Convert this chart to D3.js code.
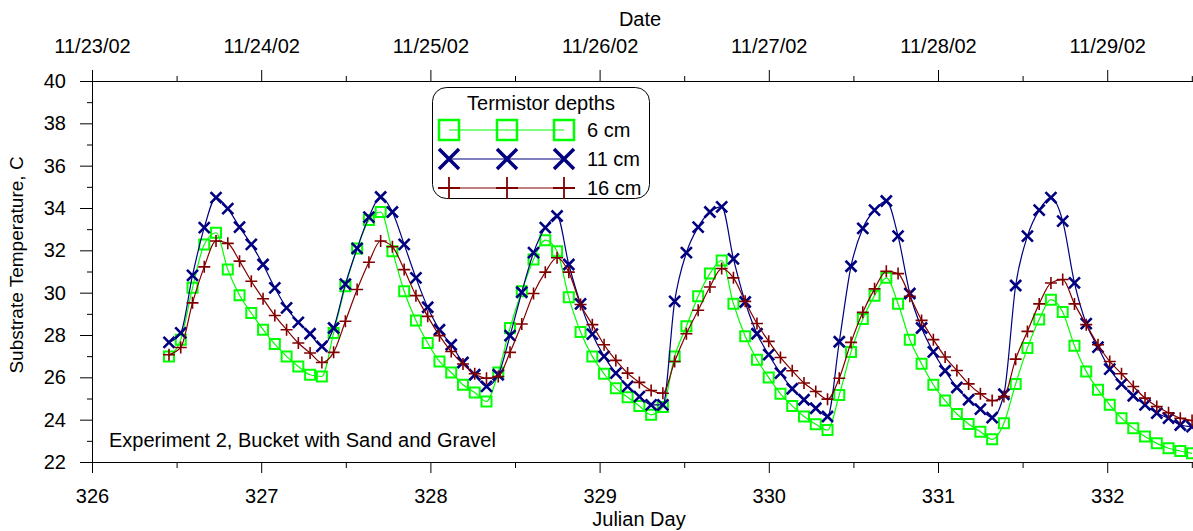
<!DOCTYPE html>
<html>
<head>
<meta charset="utf-8">
<script src="https://cdn.jsdelivr.net/npm/d3@7"></script>
<style>
  body { margin: 0; background: #fff; }
  svg text { font-family: 'Liberation Sans', Arial, sans-serif; fill: #000; }
</style>
</head>
<body>
<script>
// sampling: one marker every ~100 minutes
var startDay = 326.455;
var stepDay = 0.0695;

var temp6 = [26.99, 27.78, 30.23, 32.28, 32.83, 31.09, 29.88, 29.04, 28.25, 27.57, 26.99, 26.51, 26.12, 26.04,
  28.1, 30.3, 32.09, 33.43, 33.81, 31.96, 30.07, 28.68, 27.62, 26.75, 26.23, 25.65, 25.28, 24.86,
  26.23, 28.33, 30.07, 31.57, 32.48, 31.96, 29.78, 28.14, 26.99, 26.17, 25.49, 25.06, 24.65, 24.23, 24.6,
  26.99, 28.41, 29.83, 30.9, 31.52, 29.48, 27.94, 26.83, 25.99, 25.22, 24.65, 24.15, 23.78, 23.51,
  25.17, 27.2, 28.76, 29.86, 30.7, 29.48, 27.78, 26.64, 25.65, 24.9, 24.27, 23.8, 23.43, 23.07,
  23.83, 25.69, 27.39, 28.73, 29.67, 29.09, 27.49, 26.28, 25.41, 24.7, 24.07, 23.6, 23.2, 22.88, 22.65, 22.52, 22.41];

var temp11 = [27.65, 28.1, 30.82, 33.07, 34.49, 33.97, 33.1, 32.28, 31.33, 30.23, 29.28, 28.6, 28.06, 27.46,
  28.33, 30.4, 32.09, 33.57, 34.52, 33.81, 32.28, 30.7, 29.31, 28.25, 27.54, 26.7, 26.12, 25.57,
  26.12, 27.97, 30.02, 31.89, 33.07, 33.62, 31.33, 29.47, 28.04, 26.99, 26.2, 25.57, 25.09, 24.7, 24.7,
  29.59, 31.89, 33.1, 33.81, 34.05, 31.6, 29.56, 28.06, 27.07, 26.2, 25.46, 24.94, 24.54, 24.15,
  27.68, 31.25, 33.04, 33.9, 34.33, 32.67, 29.96, 28.33, 27.2, 26.31, 25.52, 24.94, 24.5, 24.1,
  25.2, 30.34, 32.67, 33.9, 34.49, 33.38, 30.46, 28.54, 27.43, 26.39, 25.68, 25.13, 24.7, 24.31, 24.07, 23.75, 23.67];

var temp16 = [27.07, 27.41, 29.52, 31.22, 32.44, 32.33, 31.49, 30.54, 29.71, 28.92, 28.25, 27.62, 27.15, 26.7,
  27.18, 28.65, 30.15, 31.44, 32.44, 32.17, 31.09, 29.86, 28.88, 27.97, 27.22, 26.63, 26.17, 25.96,
  26.04, 27.18, 28.52, 29.96, 30.97, 31.65, 30.97, 29.44, 28.49, 27.54, 26.8, 26.2, 25.76, 25.38, 25.25,
  26.75, 28.06, 29.17, 30.27, 31.14, 30.7, 29.59, 28.54, 27.7, 26.94, 26.31, 25.73, 25.33, 24.97,
  25.96, 27.65, 29.07, 30.18, 31.01, 30.9, 29.83, 28.69, 27.78, 26.96, 26.32, 25.69, 25.22, 24.9,
  25.09, 26.86, 28.17, 29.47, 30.46, 30.62, 29.47, 28.49, 27.54, 26.75, 26.17, 25.57, 25.02, 24.62, 24.33, 24.07, 23.96];

var dayTicks = [326, 327, 328, 329, 330, 331, 332];
var halfDayTicks = [326.5, 327.5, 328.5, 329.5, 330.5, 331.5, 332.5];
var dateLabels = ['11/23/02', '11/24/02', '11/25/02', '11/26/02', '11/27/02', '11/28/02', '11/29/02'];
var tempTicks = [22, 24, 26, 28, 30, 32, 34, 36, 38, 40];
var tempMinor = [23, 25, 27, 29, 31, 33, 35, 37, 39];

var seriesNames = ['6 cm', '11 cm', '16 cm'];
var seriesColors = ['#00ff00', '#000080', '#800000'];
var seriesShapes = ['square', 'cross', 'plus'];

var width = 1193, height = 531;

var svg = d3.select('body').append('svg')
  .attr('width', width)
  .attr('height', height);

var x = d3.scaleLinear().domain([326, 332.51]).range([92, 1193.5]);
var y = d3.scaleLinear().domain([22, 40]).range([462, 81]);

var times = d3.range(temp6.length).map(function(i) { return startDay + i * stepDay; });

// axes
function styleAxis(g) {
  g.selectAll('path.domain').attr('stroke', '#000');
  g.selectAll('.tick line').attr('stroke', '#000');
  g.selectAll('text')
    .style('font-family', "'Liberation Sans', Arial, sans-serif")
    .style('font-size', '20px')
    .attr('fill', '#000');
}

svg.append('g')
  .attr('transform', 'translate(0,462)')
  .call(d3.axisBottom(x).tickValues(halfDayTicks).tickSize(6).tickSizeOuter(0).tickFormat(''))
  .call(styleAxis);

svg.append('g')
  .attr('transform', 'translate(0,462)')
  .call(d3.axisBottom(x).tickValues(dayTicks).tickSize(11).tickSizeOuter(0).tickPadding(16).tickFormat(d3.format('d')))
  .call(styleAxis);

svg.append('g')
  .attr('transform', 'translate(0,81)')
  .call(d3.axisTop(x).tickValues(halfDayTicks).tickSize(5).tickSizeOuter(0).tickFormat(''))
  .call(styleAxis);

svg.append('g')
  .attr('transform', 'translate(0,81)')
  .call(d3.axisTop(x).tickValues(dayTicks).tickSize(11).tickSizeOuter(0).tickPadding(17)
    .tickFormat(function(d, i) { return dateLabels[i]; }))
  .call(styleAxis);

svg.append('g')
  .attr('transform', 'translate(92,0)')
  .call(d3.axisLeft(y).tickValues(tempMinor).tickSize(5).tickSizeOuter(0).tickFormat(''))
  .call(styleAxis);

svg.append('g')
  .attr('transform', 'translate(92,0)')
  .call(d3.axisLeft(y).tickValues(tempTicks).tickSize(12).tickSizeOuter(0).tickPadding(14).tickFormat(d3.format('d')))
  .call(styleAxis);

// axis titles
svg.append('text')
  .attr('x', 639).attr('y', 526)
  .attr('text-anchor', 'middle')
  .style('font-size', '20px')
  .text('Julian Day');

svg.append('text')
  .attr('x', 640).attr('y', 26)
  .attr('text-anchor', 'middle')
  .style('font-size', '20px')
  .text('Date');

svg.append('text')
  .attr('transform', 'translate(23,265) rotate(-90)')
  .attr('text-anchor', 'middle')
  .style('font-size', '19px')
  .text('Substrate Temperature, C');

svg.append('text')
  .attr('x', 109).attr('y', 447)
  .style('font-size', '20px')
  .text('Experiment 2, Bucket with Sand and Gravel');

// marker shapes
function markerPath(shape, cx, cy, r) {
  if (shape === 'square') {
    return 'M' + (cx - r) + ',' + (cy - r) + 'h' + (2 * r) + 'v' + (2 * r) + 'h' + (-2 * r) + 'Z';
  } else if (shape === 'cross') {
    return 'M' + (cx - r) + ',' + (cy - r) + 'L' + (cx + r) + ',' + (cy + r) +
      'M' + (cx - r) + ',' + (cy + r) + 'L' + (cx + r) + ',' + (cy - r);
  }
  return 'M' + (cx - r) + ',' + cy + 'H' + (cx + r) + 'M' + cx + ',' + (cy - r) + 'V' + (cy + r);
}

var markerWidth = { square: 2, cross: 2.6, plus: 1.6 };
var markerSize = { square: 5, cross: 5.5, plus: 6 };

var line = d3.line()
  .x(function(d) { return x(d[0]); })
  .y(function(d) { return y(d[1]); })
  .curve(d3.curveMonotoneX);

[temp6, temp11, temp16].forEach(function(values, k) {
  var pts = values.map(function(v, i) { return [times[i], v]; });
  var g = svg.append('g');

  g.append('path')
    .datum(pts)
    .attr('d', line)
    .attr('fill', 'none')
    .attr('stroke', seriesColors[k])
    .attr('stroke-width', 1.2);

  g.selectAll('path.mark')
    .data(pts)
    .enter().append('path')
    .attr('class', 'mark')
    .attr('d', function(d) { return markerPath(seriesShapes[k], x(d[0]), y(d[1]), markerSize[seriesShapes[k]]); })
    .attr('fill', 'none')
    .attr('stroke', seriesColors[k])
    .attr('stroke-width', markerWidth[seriesShapes[k]]);
});

// legend
var legend = svg.append('g');

legend.append('rect')
  .attr('x', 432.5).attr('y', 87.5)
  .attr('width', 217).attr('height', 111)
  .attr('rx', 14).attr('ry', 14)
  .attr('fill', '#fff')
  .attr('stroke', '#000')
  .attr('stroke-width', 1);

legend.append('text')
  .attr('x', 541).attr('y', 110)
  .attr('text-anchor', 'middle')
  .style('font-size', '20px')
  .text('Termistor depths');

var legendMarks = [449, 507, 564];
var legendSize = { square: 10, cross: 10, plus: 11 };

seriesNames.forEach(function(name, k) {
  var rowY = 130 + k * 29;
  var shape = seriesShapes[k];
  legend.append('line')
    .attr('x1', legendMarks[0]).attr('x2', legendMarks[2])
    .attr('y1', rowY).attr('y2', rowY)
    .attr('stroke', seriesColors[k])
    .attr('stroke-width', 1.2);
  legendMarks.forEach(function(mx) {
    legend.append('path')
      .attr('d', markerPath(shape, mx, rowY, legendSize[shape]))
      .attr('fill', 'none')
      .attr('stroke', seriesColors[k])
      .attr('stroke-width', shape === 'cross' ? 3.5 : (shape === 'square' ? 2.5 : 1.8));
  });
  legend.append('text')
    .attr('x', 587).attr('y', rowY + 7)
    .style('font-size', '20px')
    .text(name);
});
</script>
</body>
</html>
